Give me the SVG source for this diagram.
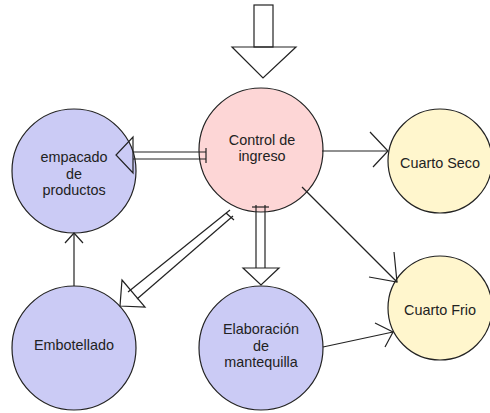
<svg xmlns="http://www.w3.org/2000/svg" width="490" height="413" viewBox="0 0 490 413">
<style>
.n{stroke:#222;stroke-width:1.2}
.pink{fill:#fdd6d6}
.blue{fill:#cbcbf5}
.yel{fill:#fff6cd}
.t{font-family:"Liberation Sans",Arial,sans-serif;font-size:14.4px;fill:#222;text-anchor:middle}
.c{stroke:#222;stroke-width:1.2;fill:none}
.h{stroke:#222;stroke-width:1.2;fill:none}
</style>
<rect width="490" height="413" fill="#fff"/>
<g id="control">
  <circle class="n pink" cx="261" cy="150" r="62"/>
  <text class="t" x="262" y="145">Control de</text>
  <text class="t" x="262" y="161">ingreso</text>
</g>
<g id="empacado">
  <circle class="n blue" cx="74" cy="171" r="62"/>
  <text class="t" x="74" y="162">empacado</text>
  <text class="t" x="74" y="179">de</text>
  <text class="t" x="74" y="195">productos</text>
</g>
<g id="cuarto-seco">
  <circle class="n yel" cx="440" cy="161" r="52"/>
  <text class="t" x="440" y="168">Cuarto Seco</text>
</g>
<g id="cuarto-frio">
  <circle class="n yel" cx="440" cy="308" r="52"/>
  <text class="t" x="440" y="315">Cuarto Frio</text>
</g>
<g id="embotellado">
  <circle class="n blue" cx="74" cy="348" r="62"/>
  <text class="t" x="74" y="350">Embotellado</text>
</g>
<g id="elaboracion">
  <circle class="n blue" cx="261" cy="348" r="62"/>
  <text class="t" x="261" y="334">Elaboración</text>
  <text class="t" x="261" y="351">de</text>
  <text class="t" x="261" y="367">mantequilla</text>
</g>
<g id="connectors">
  <!-- top input arrow -->
  <rect class="h" x="254" y="5" width="19" height="42"/>
  <polygon class="h" points="232,47 296,47 263,78"/>
  <!-- Control -> Empacado -->
  <line class="c" x1="206" y1="152" x2="133" y2="152"/>
  <line class="c" x1="206" y1="159" x2="133" y2="159"/>
  <line class="c" x1="206" y1="148" x2="206" y2="163"/>
  <polygon class="h" points="133,137 133,173 116,155"/>
  <!-- Control -> Cuarto Seco -->
  <line class="c" x1="322" y1="151" x2="388" y2="151"/>
  <polyline class="c" points="370,132 388,151 373,167"/>
  <!-- Control -> Cuarto Frio -->
  <line class="c" x1="302" y1="187" x2="397" y2="282"/>
  <polyline class="c" points="394,252 397,282 369,277"/>
  <!-- Elaboracion -> Cuarto Frio -->
  <line class="c" x1="323" y1="347" x2="393" y2="332"/>
  <polyline class="c" points="375,323 393,332 385,347"/>
  <!-- Control -> Elaboracion -->
  <line class="c" x1="256" y1="205" x2="256" y2="268"/>
  <line class="c" x1="265" y1="205" x2="265" y2="268"/>
  <line class="c" x1="252" y1="207" x2="269" y2="207"/>
  <polygon class="h" points="243,268 279,268 261,285"/>
  <!-- Control -> Embotellado -->
  <line class="c" x1="230" y1="210" x2="128" y2="292"/>
  <line class="c" x1="233" y1="216" x2="137" y2="299"/>
  <line class="c" x1="226" y1="213" x2="234" y2="220"/>
  <polygon class="h" points="122,280 145,307 120,306"/>
  <!-- Embotellado -> Empacado -->
  <line class="c" x1="74" y1="286" x2="74" y2="233"/>
  <polyline class="c" points="65,243 74,233 83,243"/>
</g>
</svg>
